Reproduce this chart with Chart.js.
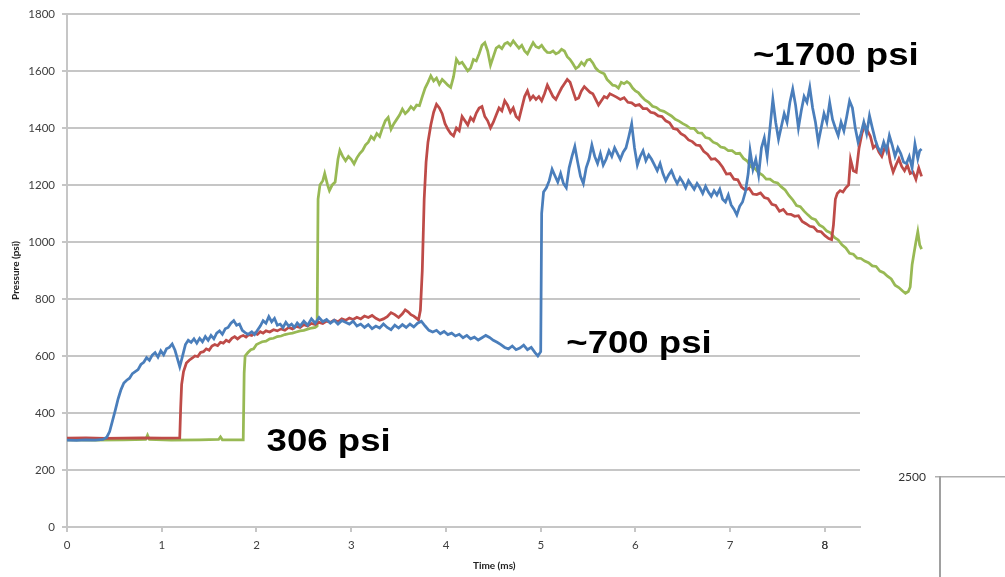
<!DOCTYPE html>
<html>
<head>
<meta charset="utf-8">
<script src="https://cdn.jsdelivr.net/npm/chart.js@4.4.0/dist/chart.umd.min.js"></script>
<style>
    html, body { margin: 0; padding: 0; background: #fff; overflow: hidden; }
    #wrap { position: relative; width: 1005px; height: 577px; overflow: hidden; }
    #pressureChart { position: absolute; left: 0; top: 0; }
    #insetChart { position: absolute; left: 860px; top: 440px; }
</style>
</head>
<body>
<div id="wrap">
    <canvas id="insetChart" width="300" height="700"></canvas>
    <canvas id="pressureChart" width="1005" height="577"></canvas>
</div>
<script>
// Pressure traces, [time (ms), pressure (psi)]
const blueTrace = [
    [0,305],[0.1,304],[0.2,306],[0.3,305],[0.38,307],[0.42,315],[0.45,335],[0.48,372],[0.51,410],[0.54,450],
    [0.57,482],[0.6,505],[0.63,515],[0.66,522],[0.69,538],[0.72,545],[0.75,552],[0.78,570],[0.81,578],[0.84,594],
    [0.87,585],[0.9,603],[0.93,612],[0.96,596],[0.99,618],[1.02,604],[1.05,625],[1.08,630],[1.11,642],[1.14,620],
    [1.17,585],[1.19,562],[1.22,600],[1.25,640],[1.28,655],[1.31,648],[1.34,660],[1.37,645],[1.4,662],[1.43,650],
    [1.46,668],[1.49,655],[1.52,672],[1.55,660],[1.58,680],[1.61,688],[1.64,676],[1.67,695],[1.7,700],[1.73,715],
    [1.76,724],[1.79,708],[1.82,712],[1.85,690],[1.88,682],[1.91,676],[1.95,685],[1.98,675],[2.01,690],[2.04,705],
    [2.07,724],[2.1,715],[2.13,738],[2.16,720],[2.19,732],[2.22,708],[2.25,712],[2.28,700],[2.31,718],[2.34,705],
    [2.37,712],[2.4,700],[2.43,716],[2.46,705],[2.5,722],[2.54,708],[2.58,730],[2.62,715],[2.66,735],[2.7,720],
    [2.74,728],[2.78,715],[2.82,725],[2.86,712],[2.9,724],[2.94,718],[2.98,712],[3.02,722],[3.06,705],[3.1,712],
    [3.14,700],[3.18,710],[3.22,696],[3.26,705],[3.3,698],[3.34,712],[3.38,700],[3.42,692],[3.46,708],[3.5,698],
    [3.54,710],[3.58,700],[3.62,712],[3.66,702],[3.7,715],[3.74,722],[3.78,705],[3.82,690],[3.86,684],[3.9,690],
    [3.94,678],[3.98,686],[4.02,675],[4.06,680],[4.1,670],[4.14,676],[4.18,664],[4.22,672],[4.26,660],[4.3,666],
    [4.34,656],[4.38,664],[4.42,672],[4.46,665],[4.5,655],[4.54,648],[4.58,640],[4.62,630],[4.66,625],[4.7,635],
    [4.74,622],[4.78,628],[4.82,638],[4.86,622],[4.9,630],[4.94,612],[4.97,600],[5.0,615],[5.01,1100],[5.03,1175],
    [5.06,1190],[5.09,1215],[5.12,1255],[5.15,1232],[5.18,1210],[5.21,1240],[5.24,1205],[5.27,1190],[5.3,1260],[5.33,1300],
    [5.36,1335],[5.39,1280],[5.42,1230],[5.45,1205],[5.48,1260],[5.51,1290],[5.54,1340],[5.57,1300],[5.6,1275],[5.63,1310],
    [5.66,1270],[5.69,1290],[5.72,1320],[5.75,1300],[5.78,1330],[5.81,1310],[5.84,1290],[5.87,1315],[5.9,1330],[5.93,1370],
    [5.96,1414],[5.99,1330],[6.02,1270],[6.05,1300],[6.08,1320],[6.11,1285],[6.14,1305],[6.17,1290],[6.2,1270],[6.23,1250],
    [6.26,1275],[6.29,1240],[6.32,1215],[6.35,1235],[6.38,1250],[6.41,1225],[6.44,1205],[6.47,1225],[6.5,1210],[6.53,1190],
    [6.56,1215],[6.59,1200],[6.62,1185],[6.65,1205],[6.68,1190],[6.71,1170],[6.74,1195],[6.77,1175],[6.8,1160],[6.83,1180],
    [6.86,1165],[6.89,1185],[6.92,1150],[6.95,1140],[6.98,1165],[7.01,1130],[7.04,1115],[7.07,1095],[7.1,1125],[7.13,1140],
    [7.16,1175],[7.19,1240],[7.21,1320],[7.24,1255],[7.27,1290],[7.3,1235],[7.33,1330],[7.36,1365],[7.39,1300],[7.42,1400],
    [7.45,1500],[7.48,1420],[7.51,1360],[7.54,1405],[7.57,1450],[7.6,1420],[7.63,1490],[7.66,1536],[7.69,1480],[7.72,1400],
    [7.75,1460],[7.78,1510],[7.81,1490],[7.84,1542],[7.87,1470],[7.9,1420],[7.93,1350],[7.96,1400],[7.99,1450],[8.02,1420],
    [8.05,1489],[8.08,1430],[8.11,1400],[8.14,1373],[8.17,1420],[8.2,1390],[8.23,1440],[8.26,1495],[8.29,1470],[8.32,1400],
    [8.35,1350],[8.38,1380],[8.41,1420],[8.44,1380],[8.47,1443],[8.5,1400],[8.53,1360],[8.56,1330],[8.59,1315],[8.62,1350],
    [8.65,1320],[8.68,1373],[8.71,1340],[8.74,1300],[8.77,1330],[8.8,1310],[8.83,1280],[8.86,1275],[8.89,1300],[8.92,1260],
    [8.95,1344],[8.98,1292],[9.0,1320],[9.02,1326]
];

const redTrace = [
    [0,312],[0.2,313],[0.4,311],[0.6,312],[0.8,313],[1.0,312],[1.19,313],[1.2,420],[1.21,500],[1.23,545],
    [1.26,575],[1.29,585],[1.32,592],[1.35,600],[1.38,598],[1.41,612],[1.44,615],[1.47,625],[1.5,620],[1.53,635],
    [1.56,640],[1.59,636],[1.62,648],[1.65,645],[1.68,655],[1.71,650],[1.74,662],[1.77,668],[1.8,660],[1.83,668],
    [1.86,672],[1.89,666],[1.92,675],[1.95,672],[1.98,680],[2.01,676],[2.04,685],[2.07,680],[2.1,688],[2.14,684],
    [2.18,692],[2.22,688],[2.26,695],[2.3,690],[2.34,700],[2.38,695],[2.42,704],[2.46,700],[2.5,710],[2.54,705],
    [2.58,714],[2.62,710],[2.66,718],[2.7,714],[2.74,722],[2.78,718],[2.82,726],[2.86,720],[2.9,730],[2.94,725],
    [2.98,733],[3.02,728],[3.06,736],[3.1,730],[3.14,740],[3.18,735],[3.22,742],[3.26,732],[3.3,725],[3.34,730],
    [3.38,738],[3.42,752],[3.46,745],[3.5,735],[3.54,748],[3.57,762],[3.6,755],[3.63,745],[3.66,740],[3.69,732],
    [3.71,726],[3.73,760],[3.75,900],[3.77,1150],[3.79,1280],[3.81,1350],[3.84,1410],[3.87,1455],[3.9,1483],[3.93,1470],
    [3.96,1450],[3.99,1415],[4.02,1395],[4.05,1380],[4.08,1372],[4.11,1400],[4.14,1390],[4.17,1440],[4.2,1425],[4.23,1410],
    [4.26,1436],[4.29,1425],[4.32,1452],[4.35,1470],[4.38,1475],[4.41,1440],[4.44,1425],[4.47,1400],[4.5,1420],[4.53,1445],
    [4.56,1470],[4.59,1460],[4.62,1495],[4.65,1480],[4.68,1455],[4.71,1470],[4.74,1440],[4.77,1430],[4.8,1470],[4.83,1510],
    [4.86,1530],[4.89,1500],[4.92,1512],[4.95,1500],[4.98,1510],[5.01,1495],[5.04,1520],[5.07,1550],[5.1,1530],[5.13,1510],
    [5.16,1500],[5.19,1520],[5.22,1540],[5.25,1555],[5.28,1570],[5.31,1560],[5.34,1530],[5.37,1500],[5.4,1505],[5.43,1530],
    [5.46,1545],[5.49,1535],[5.52,1525],[5.55,1520],[5.58,1500],[5.61,1480],[5.64,1495],[5.67,1510],[5.7,1505],[5.73,1520],
    [5.76,1515],[5.8,1508],[5.84,1500],[5.88,1506],[5.92,1490],[5.96,1488],[6.0,1478],[6.04,1482],[6.08,1468],[6.12,1468],
    [6.16,1455],[6.2,1452],[6.24,1442],[6.28,1440],[6.32,1425],[6.36,1418],[6.4,1398],[6.44,1395],[6.48,1380],[6.52,1372],
    [6.56,1358],[6.6,1352],[6.64,1340],[6.68,1338],[6.72,1318],[6.76,1308],[6.8,1290],[6.84,1292],[6.88,1280],[6.92,1262],
    [6.96,1238],[7.0,1240],[7.04,1220],[7.08,1218],[7.12,1192],[7.16,1182],[7.2,1188],[7.24,1168],[7.28,1166],[7.32,1172],
    [7.36,1156],[7.4,1152],[7.44,1132],[7.48,1128],[7.52,1108],[7.56,1114],[7.6,1098],[7.64,1097],[7.68,1090],[7.72,1092],
    [7.76,1072],[7.8,1064],[7.84,1055],[7.88,1052],[7.92,1038],[7.96,1036],[8.0,1022],[8.04,1012],[8.07,1008],[8.09,1060],
    [8.11,1150],[8.13,1170],[8.16,1180],[8.19,1175],[8.22,1190],[8.25,1200],[8.27,1290],[8.3,1250],[8.33,1245],[8.36,1330],
    [8.39,1380],[8.42,1410],[8.45,1390],[8.48,1370],[8.51,1330],[8.54,1340],[8.57,1315],[8.6,1300],[8.63,1330],[8.66,1338],
    [8.69,1280],[8.72,1245],[8.75,1270],[8.78,1292],[8.81,1265],[8.84,1250],[8.87,1270],[8.9,1240],[8.93,1245],[8.96,1220],
    [8.99,1260],[9.02,1230]
];

const greenTrace = [
    [0,306],[0.3,305],[0.6,306],[0.83,307],[0.85,322],[0.87,307],[1.1,305],[1.4,306],[1.6,307],[1.62,316],
    [1.64,306],[1.86,306],[1.87,540],[1.88,600],[1.91,612],[1.94,622],[1.97,625],[2.0,640],[2.03,645],[2.06,650],
    [2.1,652],[2.14,660],[2.18,662],[2.22,668],[2.26,670],[2.3,675],[2.34,678],[2.38,680],[2.42,684],[2.46,688],
    [2.5,690],[2.54,694],[2.58,698],[2.62,700],[2.64,705],[2.65,1150],[2.67,1200],[2.7,1215],[2.72,1240],[2.75,1200],
    [2.77,1180],[2.8,1200],[2.83,1210],[2.86,1290],[2.88,1321],[2.91,1300],[2.94,1285],[2.97,1300],[3.0,1290],[3.03,1274],
    [3.06,1295],[3.09,1310],[3.12,1321],[3.15,1340],[3.18,1350],[3.21,1370],[3.24,1360],[3.27,1380],[3.3,1370],[3.33,1400],
    [3.36,1425],[3.39,1437],[3.42,1395],[3.45,1415],[3.48,1430],[3.51,1445],[3.54,1466],[3.57,1450],[3.6,1460],[3.63,1475],
    [3.66,1465],[3.69,1480],[3.72,1478],[3.75,1510],[3.78,1540],[3.81,1560],[3.84,1583],[3.87,1565],[3.9,1575],[3.93,1553],
    [3.96,1570],[3.99,1560],[4.02,1550],[4.05,1542],[4.08,1580],[4.11,1641],[4.14,1625],[4.17,1630],[4.2,1615],[4.23,1600],
    [4.26,1610],[4.29,1640],[4.32,1635],[4.35,1660],[4.38,1690],[4.41,1699],[4.44,1670],[4.47,1620],[4.5,1650],[4.53,1680],
    [4.56,1687],[4.59,1678],[4.62,1695],[4.65,1700],[4.68,1690],[4.71,1705],[4.74,1692],[4.77,1680],[4.8,1690],[4.83,1670],
    [4.86,1660],[4.89,1680],[4.92,1699],[4.95,1685],[4.98,1681],[5.01,1690],[5.04,1675],[5.07,1665],[5.1,1664],[5.13,1670],
    [5.16,1660],[5.19,1665],[5.22,1676],[5.25,1670],[5.28,1650],[5.31,1640],[5.34,1625],[5.37,1608],[5.4,1615],[5.43,1630],
    [5.46,1620],[5.49,1638],[5.52,1641],[5.55,1628],[5.58,1610],[5.61,1600],[5.64,1594],[5.67,1590],[5.7,1570],[5.73,1560],
    [5.76,1550],[5.79,1548],[5.82,1540],[5.85,1560],[5.88,1555],[5.91,1562],[5.94,1555],[5.97,1540],[6.0,1530],[6.03,1524],
    [6.06,1512],[6.1,1498],[6.14,1490],[6.18,1476],[6.22,1472],[6.26,1462],[6.3,1458],[6.34,1450],[6.38,1442],[6.42,1430],
    [6.46,1424],[6.5,1415],[6.54,1408],[6.58,1398],[6.62,1398],[6.66,1383],[6.7,1382],[6.74,1366],[6.78,1363],[6.82,1350],
    [6.86,1345],[6.9,1333],[6.94,1330],[6.98,1320],[7.02,1320],[7.06,1310],[7.1,1311],[7.14,1293],[7.18,1284],[7.22,1263],
    [7.26,1258],[7.3,1243],[7.34,1235],[7.38,1220],[7.42,1220],[7.46,1210],[7.5,1207],[7.54,1193],[7.58,1182],[7.62,1163],
    [7.66,1148],[7.7,1128],[7.74,1124],[7.78,1108],[7.82,1095],[7.86,1083],[7.9,1078],[7.94,1060],[7.98,1052],[8.02,1038],
    [8.06,1032],[8.1,1016],[8.14,1007],[8.18,990],[8.22,979],[8.26,960],[8.3,957],[8.34,943],[8.38,942],[8.42,933],
    [8.46,927],[8.5,916],[8.54,914],[8.58,898],[8.62,892],[8.66,880],[8.7,870],[8.74,848],[8.78,840],[8.82,828],
    [8.85,820],[8.88,826],[8.9,842],[8.92,920],[8.94,960],[8.96,1000],[8.98,1036],[9.0,990],[9.02,975]
];

// Axis ranges and tick steps
const xAxisEnd = 8.37;
const yAxisRange = [0, 1800];
const yTickStep = 200;
const insetRange = [0, 2500];
const insetTickStep = 500;

// Text callouts placed in data units
const callouts = [
    { text: '~1700 psi', t: 7.24, psi: 1620 },
    { text: '~700 psi', t: 5.27, psi: 611 },
    { text: '306 psi', t: 2.107, psi: 268 }
];

const gridGray = '#C6C6C6';
const tickFont = { family: 'Lato', size: 11.5 };
const plainNumber = (value) => String(value);

// Draw the callout texts and the x axis title
const calloutPlugin = {
    id: 'callouts',
    afterDraw(chart) {
        const ctx = chart.ctx;
        const xs = chart.scales.x, ys = chart.scales.y;
        ctx.save();
        ctx.fillStyle = '#000';
        ctx.font = 'bold 31px "Liberation Sans", Arial, sans-serif';
        ctx.textBaseline = 'alphabetic';
        ctx.textAlign = 'left';
        callouts.forEach(c => {
            ctx.save();
            ctx.translate(xs.getPixelForValue(c.t), ys.getPixelForValue(c.psi));
            ctx.scale(1.18, 1);
            ctx.fillText(c.text, 0, 0);
            ctx.restore();
        });

        // x title is centred on the full recorded time span
        const lastT = blueTrace[blueTrace.length - 1][0];
        ctx.font = 'bold 10px Lato';
        ctx.fillStyle = '#222';
        ctx.textAlign = 'center';
        ctx.textBaseline = 'middle';
        ctx.fillText('Time (ms)', xs.getPixelForValue(lastT / 2), chart.chartArea.bottom + 39);
        ctx.restore();
    }
};

const ctxMain = document.getElementById('pressureChart').getContext('2d');
const pressureChart = new Chart(ctxMain, {
    type: 'line',
    data: {
        datasets: [
            { label: 'Blue', data: blueTrace, borderColor: '#4A7EBB', borderWidth: 2.75, pointRadius: 0, tension: 0, clip: false },
            { label: 'Red', data: redTrace, borderColor: '#BE4B48', borderWidth: 2.75, pointRadius: 0, tension: 0, clip: false },
            { label: 'Green', data: greenTrace, borderColor: '#98B954', borderWidth: 2.75, pointRadius: 0, tension: 0, clip: false }
        ]
    },
    options: {
        responsive: false,
        animation: false,
        layout: { padding: { left: 0, top: 11, right: 145, bottom: 0 } },
        plugins: { legend: { display: false }, tooltip: { enabled: false } },
        scales: {
            x: {
                type: 'linear',
                min: 0,
                bounds: 'data',
                afterDataLimits: (scale) => { scale.max = xAxisEnd; },
                afterBuildTicks: (scale) => { scale.ticks = scale.ticks.filter(t => t.value <= xAxisEnd); },
                afterFit: (scale) => { scale.height = 50; },
                ticks: { stepSize: 1, color: '#404040', font: tickFont, padding: 6, maxRotation: 0, callback: plainNumber },
                grid: { drawOnChartArea: false, drawTicks: true, tickLength: 5, color: gridGray, lineWidth: 2 },
                border: { color: gridGray, width: 2 }
            },
            y: {
                min: yAxisRange[0],
                max: yAxisRange[1],
                afterFit: (scale) => { scale.width = 67; },
                ticks: { stepSize: yTickStep, color: '#404040', font: tickFont, padding: 7, callback: plainNumber },
                grid: { color: gridGray, lineWidth: 2, tickLength: 5 },
                border: { color: gridGray, width: 2 },
                title: { display: true, text: 'Pressure (psi)', color: '#222', font: { family: 'Lato', size: 10, weight: 'bold' }, padding: { top: 10, bottom: 0 } }
            }
        }
    },
    plugins: [calloutPlugin]
});

// Partial second chart peeking in at the bottom right
const ctxInset = document.getElementById('insetChart').getContext('2d');
const insetChart = new Chart(ctxInset, {
    type: 'line',
    data: { datasets: [] },
    options: {
        responsive: false,
        animation: false,
        layout: { padding: { left: 0, top: 37, right: 0, bottom: 138 } },
        plugins: { legend: { display: false }, tooltip: { enabled: false } },
        scales: {
            x: { type: 'linear', display: false, min: 0, max: 1 },
            y: {
                min: insetRange[0],
                max: insetRange[1],
                afterFit: (scale) => { scale.width = 80; },
                ticks: { stepSize: insetTickStep, color: '#333', font: { family: 'Lato', size: 12 }, padding: 9, callback: plainNumber },
                grid: { color: '#B0B0B0', lineWidth: 1.5, tickLength: 5 },
                border: { color: '#A0A0A0', width: 2 }
            }
        }
    }
});
</script>
</body>
</html>
